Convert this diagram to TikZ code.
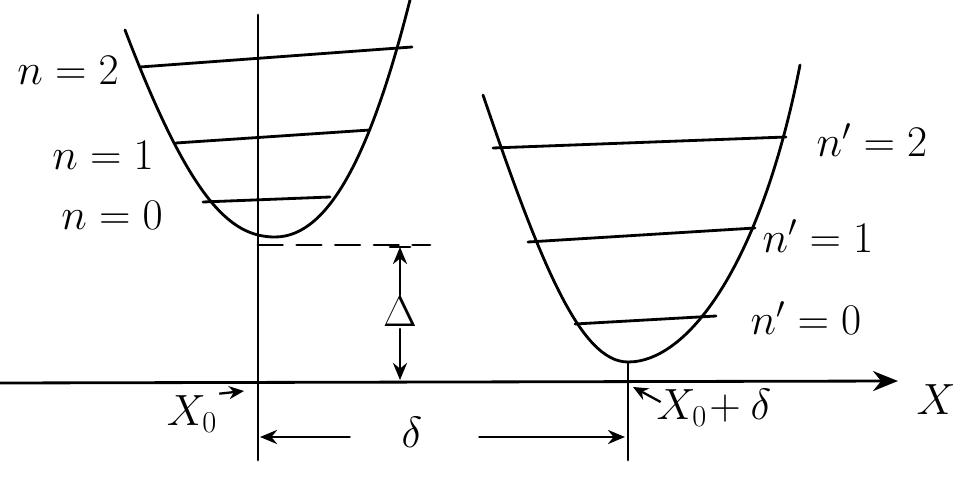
\documentclass[tikz,border=0pt]{standalone}
\usepackage{amsmath,amssymb}
\usepackage{tikz}
\usetikzlibrary{positioning, arrows.meta, calc}

\begin{document}
\begin{tikzpicture}[
  x=0.02cm, y=-0.02cm,
  ink/.style   = {line width=1.6pt, line cap=round, line join=round},
  level/.style = {ink},
  well/.style  = {ink},
  lbl/.style   = {font=\fontsize{25}{27}\selectfont, inner sep=1pt},
  big/.style   = {font=\fontsize{32}{34}\selectfont, inner sep=1pt},
  tip/.style   = {ink, -{Stealth[length=3.4mm, width=2.8mm]}},
  ptr/.style   = {line width=1.3pt, -{Stealth[length=3mm, width=2.6mm]}},
]
\useasboundingbox (0,0) rectangle (974,486);

% --- points --------------------------------------------------------------
\coordinate (o1)   at (258,383);
\coordinate (o2)   at (628,383);
\coordinate (v1)   at (258,245);
\coordinate (dtop) at (400,247);
\coordinate (dbot) at (400,380);
\coordinate (xend) at (898,381);
\coordinate (d1)   at (260,437);
\coordinate (d2)   at (625,437);

% --- wells ---------------------------------------------------------------
\draw[well] (125,30) .. controls (190,200) and (230,237) .. (275,237)
            .. controls (330,237) and (372,150) .. (410,0);
\draw[well] (483,95) .. controls (540,262) and (580,362) .. (628,362)
            .. controls (690,362) and (762,260) .. (800,65);

% --- levels --------------------------------------------------------------
\draw[level] (140,67) -- (412,47);
\draw[level] (176,143) -- (370,130);
\draw[level] (203,202) -- (330,197);
\draw[level] (493,148) -- (786,137);
\draw[level] (528,242) -- (755,228);
\draw[level] (575,324) -- (716,316);

% --- axes ----------------------------------------------------------------
\draw[ink] (258,15) -- (258,460);
\draw[ink] (628,362) -- (628,460);
\draw[ink, dash pattern=on 14pt off 8pt] (v1) -- (430,245);
\draw[ink, -{Stealth[length=5mm, width=4mm]}] (0,383) -- (xend);

% --- labels --------------------------------------------------------------
\node[lbl] (n2)  at (68,70)   {$n=2$};
\node[lbl] (n1)  at (103,155) {$n=1$};
\node[lbl] (n0)  at (112,215) {$n=0$};
\node[lbl] (m2)  at (872,140) {$n'=2$};
\node[lbl] (m1)  at (818,236) {$n'=1$};
\node[lbl] (m0)  at (806,318) {$n'=0$};
\node[big] (Dl)  at (400,312) {$\Delta$};
\node[big] (dl)  at (412,432) {$\delta$};
\node[big] (X)   at (936,400) {$X$};
\node[lbl] (x0)  at (192,414) {$X_0$};
\node[lbl] (x0d) at (714,408) {$X_0\!+\delta$};

% --- arrows --------------------------------------------------------------
\draw[tip] (Dl.north) -- (dtop);
\draw[ink] ($(dtop)+(-10,0)$) -- ($(dtop)+(10,0)$);
\draw[tip] (Dl.south) -- (dbot);
\draw[tip] (dl.west) ++(-50,5) -- (d1);
\draw[tip] (dl.east) ++(55,5) -- (d2);
\draw[ptr] (x0.north east) -- ($(o1)+(-14,8)$);
\draw[ptr] ($(x0d.west)+(6,-6)$) -- ($(o2)+(5,4)$);

\end{tikzpicture}
\end{document}
